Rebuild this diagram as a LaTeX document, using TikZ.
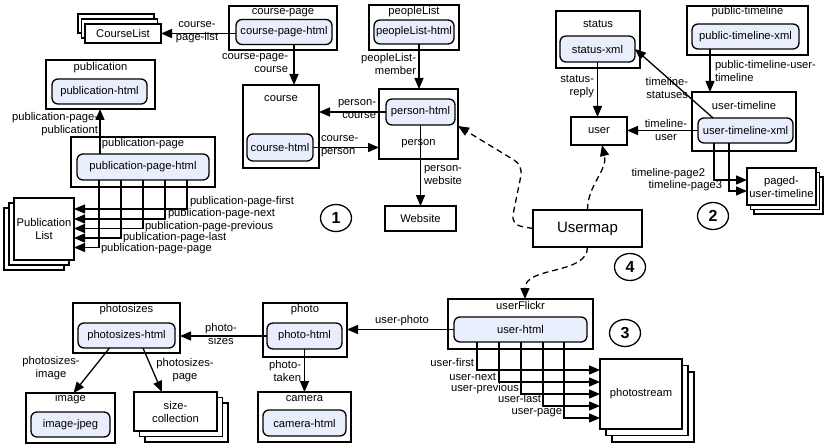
\documentclass[tikz,border=0pt]{standalone}
\usepackage{fontspec}
\setmainfont{Liberation Sans}
\usetikzlibrary{arrows.meta,shapes.geometric,backgrounds}
\definecolor{innerblue}{RGB}{233,238,252}
\newcommand{\lblfont}{\fontsize{11.2}{13}\selectfont}
\begin{document}
\begin{tikzpicture}[x=1pt,y=-1pt,
  every node/.style={font=\lblfont,inner sep=0pt,outer sep=0pt},
  sz/.style 2 args={minimum width=#1pt,minimum height=#2pt},
  boxo/.style={draw,line width=1.3pt,fill=white},
  inbox/.style={draw,line width=1.3pt,fill=innerblue,rounded corners=6pt},
  stackback/.style={draw,line width=1.3pt,fill=white},
  arr/.style={line width=1.3pt,-{Triangle[length=11pt,width=9pt]}},
  dasharr/.style={arr,dash pattern=on 6pt off 4pt},
  tightlbl/.style={text height=8pt,text depth=1pt},
  num/.style={draw,ellipse,line width=1.3pt,minimum width=31pt,minimum height=27pt,font=\fontsize{16}{16}\selectfont\bfseries}
]
\useasboundingbox (0,0) rectangle (831,444);

% ---------- nodes: group 1 ----------
\node[boxo,sz={76}{19}] (cl) at (123,33.5) {CourseList};
\node[boxo,sz={108}{44}] (cp) at (283,28) {};
\node (cpt) at (283,12.5) {course-page};
\node[inbox,sz={96}{25}] (cph) at (284,32) {course-page-html};

\node[boxo,sz={109}{49}] (pub) at (100.5,84.5) {};
\node (pubt) at (100.5,67.5) {publication};
\node[inbox,sz={95}{25}] (pubh) at (99.5,91.5) {publication-html};

\node[boxo,sz={144}{50}] (ppg) at (143,162) {};
\node (ppgt) at (143,144) {publication-page};
\node[inbox,sz={132}{26}] (ppgh) at (143,167) {publication-page-html};

\node[boxo,sz={60}{62},align=center] (pl) at (44,229) {Publication\\List};

\node[boxo,sz={90}{45}] (pplst) at (414,27.5) {};
\node (pplt) at (414,12) {peopleList};
\node[inbox,sz={80}{24}] (plh) at (414,32) {peopleList-html};

\node[boxo,sz={76}{83}] (crs) at (281,126.5) {};
\node (crst) at (281,99) {course};
\node[inbox,sz={66}{27}] (crsh) at (280,147.5) {course-html};

\node[boxo,sz={79}{70}] (per) at (418.5,124) {};
\node[inbox,sz={69}{26}] (perh) at (420.5,112) {person-html};
\node (pert) at (418.5,144) {person};

\node[boxo,sz={71}{25}] (web) at (420.5,218.5) {Website};

% ---------- group 2 ----------
\node[boxo,sz={84}{57}] (st) at (598,39.5) {};
\node (stt) at (598,24) {status};
\node[inbox,sz={75}{26}] (sth) at (597.5,49) {status-xml};

\node[boxo,sz={121}{49}] (ptl) at (747.5,30.5) {};
\node (ptlt) at (747.5,12) {public-timeline};
\node[inbox,sz={107}{25}] (ptlh) at (745.5,36.5) {public-timeline-xml};

\node[boxo,sz={104}{59}] (utl) at (744,121.5) {};
\node (utlt) at (744,105) {user-timeline};
\node[inbox,sz={95}{25}] (utlh) at (745.5,130.5) {user-timeline-xml};

\node[boxo,sz={56}{28}] (usr) at (599,131) {user};

\node[boxo,sz={69}{37},align=center] (pg) at (781.5,186.5) {paged-\\user-timeline};

% ---------- group 4 ----------
\node[boxo,sz={109}{37},font=\fontsize{15}{15}\selectfont] (um) at (587.5,228.5) {Usermap};

% ---------- group 3 ----------
\node[boxo,sz={145}{50}] (uf) at (520.5,324) {};
\node (uft) at (520.5,305) {userFlickr};
\node[inbox,sz={133}{25}] (ufh) at (520.5,329.5) {user-html};

\node[boxo,sz={82}{70}] (ps) at (641,394) {photostream};

\node[boxo,sz={84}{54}] (ph) at (305,330) {};
\node (pht) at (305,310) {photo};
\node[inbox,sz={75}{26}] (phh) at (304.5,336) {photo-html};

\node[boxo,sz={93}{50}] (cam) at (304.5,417) {};
\node (camt) at (304.5,399) {camera};
\node[inbox,sz={83}{26}] (camh) at (304.5,423) {camera-html};

\node[boxo,sz={107}{50}] (psz) at (126.5,328) {};
\node (pszt) at (126.5,310) {photosizes};
\node[inbox,sz={97}{25}] (pszh) at (126.5,335.5) {photosizes-html};

\node[boxo,sz={89}{50}] (img) at (70.5,418) {};
\node (imgt) at (70.5,399) {image};
\node[inbox,sz={79}{25}] (imgh) at (70.5,424.5) {image-jpeg};

\node[boxo,sz={83}{39},align=center] (sc) at (175.5,411.5) {size-\\collection};

% numbers
\node[num] (n1) at (336,218) {1};
\node[num] (n2) at (713,216) {2};
\node[num] (n3) at (625,333) {3};
\node[num] (n4) at (630,267) {4};

% stacked copies
\begin{pgfonlayer}{background}
  \draw[stackback] ([shift={(-7,-10)}]cl.north west) rectangle ([shift={(-7,-10)}]cl.south east);
  \draw[stackback] ([shift={(-3.5,-5)}]cl.north west) rectangle ([shift={(-3.5,-5)}]cl.south east);
  \draw[stackback] ([shift={(-10,10)}]pl.north west) rectangle ([shift={(-10,10)}]pl.south east);
  \draw[stackback] ([shift={(-5,5)}]pl.north west) rectangle ([shift={(-5,5)}]pl.south east);
  \draw[stackback] ([shift={(7,9)}]pg.north west) rectangle ([shift={(7,9)}]pg.south east);
  \draw[stackback] ([shift={(3.5,4.5)}]pg.north west) rectangle ([shift={(3.5,4.5)}]pg.south east);
  \draw[stackback] ([shift={(12,13)}]ps.north west) rectangle ([shift={(12,13)}]ps.south east);
  \draw[stackback] ([shift={(6,6.5)}]ps.north west) rectangle ([shift={(6,6.5)}]ps.south east);
  \draw[stackback] ([shift={(11,11)}]sc.north west) rectangle ([shift={(11,11)}]sc.south east);
  \draw[stackback] ([shift={(5.5,5.5)}]sc.north west) rectangle ([shift={(5.5,5.5)}]sc.south east);
\end{pgfonlayer}

% ---------- connectors: group 1 ----------
\draw[arr] (cph.west |- cl.east) -- (cl.east);
\node[align=center] (l1) at (197,32.5) {course-\\page-list};

\draw[arr] ([xshift=10pt]cph.south) -- ([xshift=10pt]cph.south |- crs.north);
\node[align=right,anchor=east] (l2) at (288,63) {course-page-\\course};

\draw[arr] ([xshift=5pt]plh.south) -- ([xshift=5pt]plh.south |- per.north);
\node[align=right,anchor=east] (l3) at (416,64) {peopleList-\\member};

\draw[arr] (perh.west) -- (perh.west -| crs.east);
\node[align=right] (l4) at (357,109) {person-\\course};

\draw[arr] (crsh.east) -- (crsh.east -| per.west);
\node[align=left,anchor=west] (l5) at (321,146) {course-\\person};

\draw[arr] (perh.south) -- (web.north);
\node[align=left,anchor=west] (l6) at (424,175) {person-\\website};

\draw[arr] ([xshift=-43pt]ppgh.north) -- ([xshift=-43pt]ppgh.north |- pub.south);
\node[align=right,anchor=east] (l7) at (98,124) {publication-page-\\publicationt};

\draw[arr] ([xshift=44pt]ppgh.south) |- ([yshift=20pt]pl.east);
\draw[arr] ([xshift=22pt]ppgh.south) |- ([yshift=10pt]pl.east);
\draw[arr] ([xshift=0pt]ppgh.south) |- ([yshift=0.5pt]pl.east);
\draw[arr] ([xshift=-22pt]ppgh.south) |- ([yshift=-9pt]pl.east);
\draw[arr] ([xshift=-44pt]ppgh.south) |- ([yshift=-18.5pt]pl.east);
\node[anchor=west,tightlbl] (l8) at (190,201) {publication-page-first};
\node[anchor=west,tightlbl] (l9) at (168,213) {publication-page-next};
\node[anchor=west,tightlbl] (l10) at (145,226) {publication-page-previous};
\node[anchor=west,tightlbl] (l11) at (123,236.5) {publication-page-last};
\node[anchor=west,tightlbl] (l12) at (101,247.5) {publication-page-page};

% ---------- connectors: group 2 ----------
\draw[arr] (sth.south) -- (sth.south |- usr.north);
\node[align=right,anchor=east] (l13) at (594,87) {status-\\reply};

\draw[arr] ([xshift=-35.5pt]ptlh.south) -- ([xshift=-35.5pt]ptlh.south |- utl.north);
\node[align=left,anchor=west] (l14) at (715,71) {public-timeline-user-\\timeline};

\draw[arr] ([xshift=15pt]utlh.north west) -- (sth.east);
\node[align=right,anchor=east] (l15) at (688,88) {timeline-\\statuses};

\draw[arr] (utlh.west) -- (utlh.west -| usr.east);
\node[align=center] (l16) at (666,130) {timeline-\\user};

\draw[arr] ([xshift=-31.5pt]utlh.south) |- ([yshift=6.5pt]pg.west);
\draw[arr] ([xshift=-16.5pt]utlh.south) |- ([yshift=-4.5pt]pg.west);
\node[anchor=east,tightlbl] (l17) at (705,173) {timeline-page2};
\node[anchor=east,tightlbl] (l18) at (722,185) {timeline-page3};

% ---------- connectors: Usermap ----------
\draw[dasharr,rounded corners=10pt] (um.west) -- ++(-22,-4) -- ++(12,-59) -- ([shift={(3,1)}]perh.south east);
\draw[dasharr] (um.north) .. controls +(0,-25) and +(6,25) .. ([xshift=3pt]usr.south);
\draw[dasharr] (um.south) .. controls +(0,28) and +(0,-33) .. ([xshift=4.5pt]uf.north);

% ---------- connectors: group 3 ----------
\draw[arr] (ufh.west) -- (ufh.west -| ph.east);
\node (l19) at (402,321) {user-photo};

\draw[arr] ([xshift=-43.5pt]ufh.south) |- ([yshift=24pt]ps.west);
\draw[arr] ([xshift=-21.5pt]ufh.south) |- ([yshift=12pt]ps.west);
\draw[arr] ([xshift=0.5pt]ufh.south) |- ([yshift=0pt]ps.west);
\draw[arr] ([xshift=22.5pt]ufh.south) |- ([yshift=-12pt]ps.west);
\draw[arr] ([xshift=43.5pt]ufh.south) |- ([yshift=-24pt]ps.west);
\node[anchor=east,tightlbl] (l20) at (474,363) {user-first};
\node[anchor=east,tightlbl] (l21) at (496,376.5) {user-next};
\node[anchor=east,tightlbl] (l22) at (519,387.5) {user-previous};
\node[anchor=east,tightlbl] (l23) at (541,399) {user-last};
\node[anchor=east,tightlbl] (l24) at (562,410.5) {user-page};

\draw[arr] (phh.west) -- (phh.west -| psz.east);
\node[align=center] (l25) at (221,333.5) {photo-\\sizes};

\draw[arr] (phh.south) -- (phh.south |- cam.north);
\node[align=right,anchor=east] (l26) at (301,370.5) {photo-\\taken};

\draw[arr] ([xshift=-17pt]pszh.south) -- ([xshift=3pt]img.north);
\node[align=center] (l27) at (51,368.5) {photosizes-\\image};

\draw[arr] ([xshift=16.5pt]pszh.south) -- ([xshift=-13.5pt]sc.north);
\node[align=center] (l28) at (185,370.5) {photosizes-\\page};
\end{tikzpicture}
\end{document}
